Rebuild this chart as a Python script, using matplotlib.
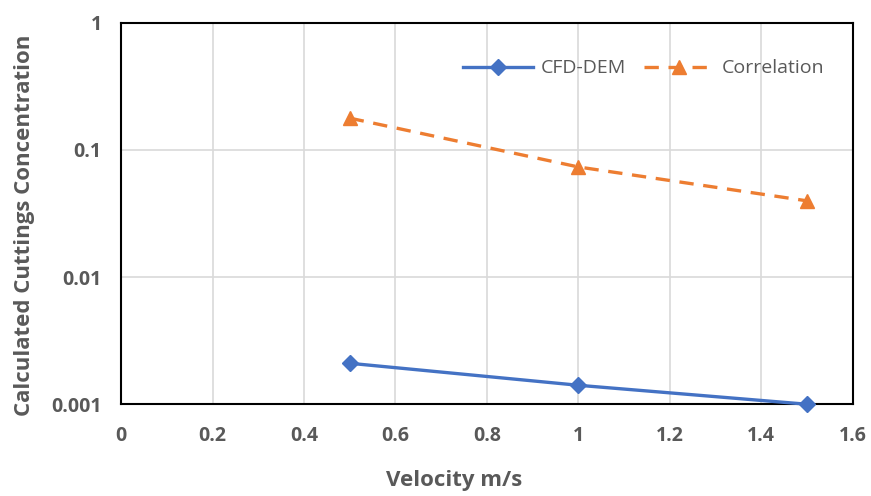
import matplotlib
matplotlib.use("Agg")
import matplotlib.pyplot as plt
from matplotlib.ticker import FixedLocator, FixedFormatter, NullLocator

velocity = [0.5, 1.0, 1.5]
cfd_dem = [0.0021, 0.00141, 0.001]
correlation = [0.178, 0.0735, 0.0398]

x_ticks = [0, 0.2, 0.4, 0.6, 0.8, 1.0, 1.2, 1.4, 1.6]
x_labels = ["0", "0.2", "0.4", "0.6", "0.8", "1", "1.2", "1.4", "1.6"]
y_ticks = [0.001, 0.01, 0.1, 1]
y_labels = ["0.001", "0.01", "0.1", "1"]

grey = "#595959"
plt.rcParams['font.family'] = ['Open Sans', 'DejaVu Sans']

fig = plt.figure(figsize=(8.71, 4.96), dpi=100)
ax = fig.add_axes([0.139, 0.185, 0.840, 0.769])

ax.plot(velocity, cfd_dem, color="#4472C4", lw=2.4, marker="D", ms=8,
        label="CFD-DEM", zorder=3, clip_on=False)
ax.plot(velocity, correlation, color="#ED7D31", lw=2.4, ls=(0, (4.3, 2.9)),
        marker="^", ms=10, label="Correlation", zorder=3, clip_on=False)

ax.set_yscale("log")
ax.set_xlim(0, 1.6)
ax.set_ylim(0.001, 1)
ax.xaxis.set_major_locator(FixedLocator(x_ticks))
ax.xaxis.set_major_formatter(FixedFormatter(x_labels))
ax.yaxis.set_major_locator(FixedLocator(y_ticks))
ax.yaxis.set_major_formatter(FixedFormatter(y_labels))
ax.yaxis.set_minor_locator(NullLocator())

ax.grid(True, color="#D9D9D9", lw=1.2)
ax.set_axisbelow(True)
for s in ax.spines.values():
    s.set_color("black")
    s.set_linewidth(1.5)

ax.tick_params(length=0, labelsize=14, labelcolor=grey)
ax.tick_params(axis="x", pad=16)
ax.tick_params(axis="y", pad=14)
for lbl in ax.get_xticklabels() + ax.get_yticklabels():
    lbl.set_fontweight("bold")

ax.set_xlabel("Velocity m/s", fontsize=16, fontweight="bold", color=grey, labelpad=20)
ax.set_ylabel("Calculated Cuttings Concentration", fontsize=16, fontweight="bold",
              color=grey, labelpad=8)
# axis titles sit slightly off the plot centre
ax.xaxis.set_label_coords(0.455, -0.2)
ax.xaxis.label.set_verticalalignment("center")
ax.yaxis.set_label_coords(-0.117, 0.47)

leg = ax.legend(loc="upper right", ncol=2, frameon=False, fontsize=14,
                bbox_to_anchor=(0.985, 0.95), handlelength=3.6,
                handletextpad=0.4, columnspacing=0.9)
for t in leg.get_texts():
    t.set_color(grey)

fig.savefig("out.png", dpi=100)
